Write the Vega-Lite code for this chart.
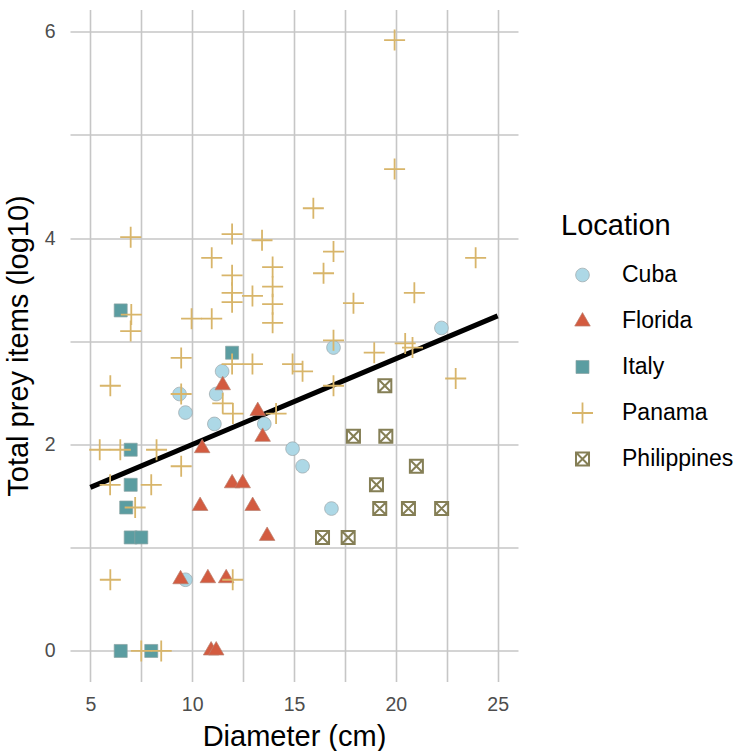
{
  "$schema": "https://vega.github.io/schema/vega-lite/v6.json",
  "autosize": {"type": "none"},
  "padding": {"left": 70, "top": 9.5, "right": 219, "bottom": 69.5},
  "width": 448,
  "height": 672,
  "background": "white",
  "config": {
    "font": "Liberation Sans",
    "view": {"stroke": null},
    "axis": {
      "gridColor": "#c6c6c6",
      "gridWidth": 1.6,
      "domain": false,
      "ticks": false,
      "labelColor": "#4d4d4d",
      "labelFontSize": 19.5,
      "titleFontSize": 29,
      "titleFontWeight": "normal",
      "titleColor": "#000000"
    }
  },
  "datasets": {
    "fit": [
      {"Diameter": 5, "Prey": 1.585},
      {"Diameter": 25, "Prey": 3.247}
    ],
    "points": [
      {"Location": "Cuba", "Diameter": 9.38, "Prey": 2.49},
      {"Location": "Cuba", "Diameter": 9.67, "Prey": 2.31},
      {"Location": "Cuba", "Diameter": 11.18, "Prey": 2.49},
      {"Location": "Cuba", "Diameter": 11.47, "Prey": 2.71},
      {"Location": "Cuba", "Diameter": 11.09, "Prey": 2.2},
      {"Location": "Cuba", "Diameter": 13.54, "Prey": 2.2},
      {"Location": "Cuba", "Diameter": 14.93, "Prey": 1.96},
      {"Location": "Cuba", "Diameter": 15.42, "Prey": 1.79},
      {"Location": "Cuba", "Diameter": 16.84, "Prey": 1.38},
      {"Location": "Cuba", "Diameter": 16.94, "Prey": 2.94},
      {"Location": "Cuba", "Diameter": 22.24, "Prey": 3.13},
      {"Location": "Cuba", "Diameter": 9.67, "Prey": 0.69},
      {"Location": "Florida", "Diameter": 11.5, "Prey": 2.58},
      {"Location": "Florida", "Diameter": 13.22, "Prey": 2.33},
      {"Location": "Florida", "Diameter": 13.46, "Prey": 2.08},
      {"Location": "Florida", "Diameter": 10.49, "Prey": 1.97},
      {"Location": "Florida", "Diameter": 11.96, "Prey": 1.63},
      {"Location": "Florida", "Diameter": 12.48, "Prey": 1.63},
      {"Location": "Florida", "Diameter": 10.39, "Prey": 1.41},
      {"Location": "Florida", "Diameter": 12.97, "Prey": 1.41},
      {"Location": "Florida", "Diameter": 13.68, "Prey": 1.12},
      {"Location": "Florida", "Diameter": 9.43, "Prey": 0.7},
      {"Location": "Florida", "Diameter": 10.77, "Prey": 0.71},
      {"Location": "Florida", "Diameter": 11.67, "Prey": 0.71},
      {"Location": "Florida", "Diameter": 10.93, "Prey": 0.01},
      {"Location": "Florida", "Diameter": 11.18, "Prey": 0.01},
      {"Location": "Italy", "Diameter": 6.49, "Prey": 3.3},
      {"Location": "Italy", "Diameter": 11.96, "Prey": 2.89},
      {"Location": "Italy", "Diameter": 6.98, "Prey": 1.95},
      {"Location": "Italy", "Diameter": 6.98, "Prey": 1.61},
      {"Location": "Italy", "Diameter": 6.76, "Prey": 1.39},
      {"Location": "Italy", "Diameter": 6.98, "Prey": 1.1},
      {"Location": "Italy", "Diameter": 7.5, "Prey": 1.1},
      {"Location": "Italy", "Diameter": 6.49, "Prey": 0},
      {"Location": "Italy", "Diameter": 7.99, "Prey": 0},
      {"Location": "Panama", "Diameter": 6.98, "Prey": 4.01},
      {"Location": "Panama", "Diameter": 11.96, "Prey": 4.04},
      {"Location": "Panama", "Diameter": 13.43, "Prey": 3.98},
      {"Location": "Panama", "Diameter": 15.95, "Prey": 4.29},
      {"Location": "Panama", "Diameter": 19.94, "Prey": 5.92},
      {"Location": "Panama", "Diameter": 19.94, "Prey": 4.67},
      {"Location": "Panama", "Diameter": 10.96, "Prey": 3.81},
      {"Location": "Panama", "Diameter": 11.96, "Prey": 3.64},
      {"Location": "Panama", "Diameter": 13.95, "Prey": 3.72},
      {"Location": "Panama", "Diameter": 11.96, "Prey": 3.47},
      {"Location": "Panama", "Diameter": 12.96, "Prey": 3.44},
      {"Location": "Panama", "Diameter": 13.95, "Prey": 3.53},
      {"Location": "Panama", "Diameter": 11.96, "Prey": 3.38},
      {"Location": "Panama", "Diameter": 13.95, "Prey": 3.36},
      {"Location": "Panama", "Diameter": 13.95, "Prey": 3.18},
      {"Location": "Panama", "Diameter": 7.01, "Prey": 3.26},
      {"Location": "Panama", "Diameter": 6.98, "Prey": 3.1},
      {"Location": "Panama", "Diameter": 9.97, "Prey": 3.22},
      {"Location": "Panama", "Diameter": 10.96, "Prey": 3.22},
      {"Location": "Panama", "Diameter": 9.46, "Prey": 2.84},
      {"Location": "Panama", "Diameter": 11.96, "Prey": 2.78},
      {"Location": "Panama", "Diameter": 12.96, "Prey": 2.78},
      {"Location": "Panama", "Diameter": 14.93, "Prey": 2.78},
      {"Location": "Panama", "Diameter": 15.42, "Prey": 2.71},
      {"Location": "Panama", "Diameter": 5.98, "Prey": 2.57},
      {"Location": "Panama", "Diameter": 9.46, "Prey": 2.49},
      {"Location": "Panama", "Diameter": 11.5, "Prey": 2.4},
      {"Location": "Panama", "Diameter": 12.0, "Prey": 2.3},
      {"Location": "Panama", "Diameter": 14.12, "Prey": 2.3},
      {"Location": "Panama", "Diameter": 5.46, "Prey": 1.95},
      {"Location": "Panama", "Diameter": 6.47, "Prey": 1.95},
      {"Location": "Panama", "Diameter": 8.25, "Prey": 1.95},
      {"Location": "Panama", "Diameter": 9.46, "Prey": 1.79},
      {"Location": "Panama", "Diameter": 5.97, "Prey": 1.61},
      {"Location": "Panama", "Diameter": 7.99, "Prey": 1.61},
      {"Location": "Panama", "Diameter": 7.2, "Prey": 1.39},
      {"Location": "Panama", "Diameter": 5.98, "Prey": 0.69},
      {"Location": "Panama", "Diameter": 11.99, "Prey": 0.69},
      {"Location": "Panama", "Diameter": 7.5, "Prey": 0},
      {"Location": "Panama", "Diameter": 8.48, "Prey": 0},
      {"Location": "Panama", "Diameter": 16.94, "Prey": 3.87},
      {"Location": "Panama", "Diameter": 16.45, "Prey": 3.66},
      {"Location": "Panama", "Diameter": 23.92, "Prey": 3.81},
      {"Location": "Panama", "Diameter": 17.92, "Prey": 3.37},
      {"Location": "Panama", "Diameter": 20.91, "Prey": 3.47},
      {"Location": "Panama", "Diameter": 16.94, "Prey": 3.01},
      {"Location": "Panama", "Diameter": 20.46, "Prey": 2.98},
      {"Location": "Panama", "Diameter": 20.82, "Prey": 2.94},
      {"Location": "Panama", "Diameter": 18.94, "Prey": 2.89},
      {"Location": "Panama", "Diameter": 16.94, "Prey": 2.57},
      {"Location": "Panama", "Diameter": 22.94, "Prey": 2.64},
      {"Location": "Philippines", "Diameter": 19.46, "Prey": 2.57},
      {"Location": "Philippines", "Diameter": 17.92, "Prey": 2.08},
      {"Location": "Philippines", "Diameter": 19.51, "Prey": 2.08},
      {"Location": "Philippines", "Diameter": 21.01, "Prey": 1.79},
      {"Location": "Philippines", "Diameter": 19.05, "Prey": 1.61},
      {"Location": "Philippines", "Diameter": 19.21, "Prey": 1.38},
      {"Location": "Philippines", "Diameter": 20.62, "Prey": 1.38},
      {"Location": "Philippines", "Diameter": 22.25, "Prey": 1.38},
      {"Location": "Philippines", "Diameter": 16.4, "Prey": 1.1},
      {"Location": "Philippines", "Diameter": 17.66, "Prey": 1.1}
    ]
  },
  "layer": [
    {
      "data": {"name": "fit"},
      "mark": {"type": "line", "color": "#000000", "strokeWidth": 5, "strokeCap": "butt"},
      "encoding": {
        "x": {"field": "Diameter", "type": "quantitative", "scale": {"domain": [4, 26], "nice": false, "zero": false},
          "axis": {"values": [5, 7.5, 10, 12.5, 15, 17.5, 20, 22.5, 25], "labelExpr": "datum.value % 5 === 0 ? format(datum.value, 'd') : ''", "title": "Diameter (cm)", "labelPadding": 14, "titlePadding": 8}},
        "y": {"field": "Prey", "type": "quantitative", "scale": {"domain": [-0.296, 6.216], "nice": false, "zero": false},
          "axis": {"values": [0, 1, 2, 3, 4, 5, 6], "labelExpr": "datum.value % 2 === 0 ? format(datum.value, 'd') : ''", "title": "Total prey items (log10)", "labelPadding": 15, "titlePadding": 11}}
      }
    },
    {
      "data": {"name": "points"},
      "mark": {"type": "point", "filled": false, "opacity": 1, "size": 441},
      "encoding": {
        "x": {"field": "Diameter", "type": "quantitative"},
        "y": {"field": "Prey", "type": "quantitative"},
        "shape": {"field": "Location", "type": "nominal",
          "scale": {"domain": ["Cuba", "Florida", "Italy", "Panama", "Philippines"],
            "range": [
              "M0.65,0A0.65,0.65,0,1,1,-0.65,0A0.65,0.65,0,1,1,0.65,0Z",
              "M0,-0.8L0.74,0.48L-0.74,0.48Z",
              "M-0.62,-0.62H0.62V0.62H-0.62Z",
              "M-1,0H1M0,-1V1",
              "M-0.62,-0.62H0.62V0.62H-0.62ZM-0.62,-0.62L0.62,0.62M0.62,-0.62L-0.62,0.62"
            ]},
          "legend": {
            "title": "Location",
            "orient": "none",
            "legendX": 491,
            "legendY": 202,
            "padding": 0,
            "titleFontSize": 29,
            "titleFontWeight": "normal",
            "titleColor": "#000000",
            "titlePadding": 23,
            "labelFontSize": 23,
            "labelColor": "#000000",
            "labelOffset": 28,
            "symbolSize": 441,
            "symbolOffset": 10,
            "rowPadding": 17,
            "gridAlign": "all"
          }
        },
        "fill": {"field": "Location", "type": "nominal",
          "scale": {"domain": ["Cuba", "Florida", "Italy", "Panama", "Philippines"],
            "range": ["#add8e6", "#d35b40", "#5b9da1", "transparent", "transparent"]},
          "legend": {"title": "Location"}},
        "stroke": {"field": "Location", "type": "nominal",
          "scale": {"domain": ["Cuba", "Florida", "Italy", "Panama", "Philippines"],
            "range": ["#9aa3a6", "#b9806f", "#8aa3a4", "#d8b56a", "#857f56"]},
          "legend": {"title": "Location"}},
        "strokeWidth": {"field": "Location", "type": "nominal",
          "scale": {"type": "ordinal", "domain": ["Cuba", "Florida", "Italy", "Panama", "Philippines"],
            "range": [0.7, 0.7, 0.7, 1.8, 2]},
          "legend": {"title": "Location"}}
      }
    }
  ]
}
